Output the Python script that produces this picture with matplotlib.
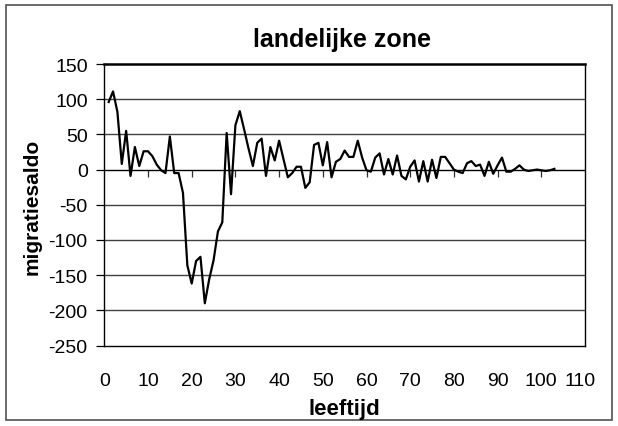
import matplotlib
matplotlib.use("Agg")
import matplotlib.pyplot as plt
from matplotlib.patches import Rectangle
from matplotlib.transforms import ScaledTranslation

plt.rcParams['font.family'] = ['Liberation Sans', 'DejaVu Sans']

# Net migration by age (rural zone)
ages = list(range(1, 104))
saldo = [
    96, 111, 82, 8, 55, -9, 32, 5, 26, 26,
    19, 7, -1, -5, 47, -5, -5, -33, -136, -162,
    -130, -124, -190, -156, -129, -88, -75, 52, -35, 63,
    83, 57, 30, 5, 38, 44, -9, 32, 13, 41,
    15, -11, -5, 4, 4, -26, -18, 35, 38, 6,
    39, -11, 11, 15, 27, 18, 18, 41, 17, -1,
    -3, 17, 23, -7, 15, -7, 20, -9, -14, 4,
    13, -17, 12, -17, 14, -12, 18, 18, 9, 0,
    -3, -5, 9, 12, 5, 7, -9, 11, -6, 6,
    17, -3, -3, 1, 6, 0, -2, -1, 0, -1,
    -2, -1, 1,
]
x_ticks = list(range(0, 111, 10))
y_ticks = list(range(-250, 151, 50))

title = "landelijke zone"
x_label = "leeftijd"
y_label = "migratiesaldo"

W, H = 618, 427
fig = plt.figure(figsize=(W / 100, H / 100), dpi=100)
fig.patch.set_facecolor("white")

# outer chart frame
fig.add_artist(Rectangle((5.5 / W, 1 - 421 / H), (612 - 5.5) / W, (421 - 6) / H,
                         transform=fig.transFigure, fill=False,
                         edgecolor="#505050", linewidth=1.2))

left, right, top, bottom = 104.3, 585, 65, 346.5
ax = fig.add_axes([left / W, 1 - bottom / H, (right - left) / W, (bottom - top) / H])
ax.set_xlim(0, 110)
ax.set_ylim(-250, 150)

for s in ax.spines.values():
    s.set_color("black")
    s.set_linewidth(1.0)
ax.spines["top"].set_linewidth(1.8)

# horizontal gridlines
for v in y_ticks[1:-1]:
    ax.axhline(v, color="black" if v == 0 else "#404040",
               linewidth=1.0, zorder=1)

ax.plot(ages, saldo, color="black", linewidth=1.6, zorder=3)

ax.set_yticks(y_ticks)
ax.set_yticklabels([str(v) for v in y_ticks])
ax.tick_params(axis="y", direction="out", length=5.5, width=0.9,
               pad=6.5, labelsize=14, color="black")

ax.set_xticks(x_ticks)
ax.set_xticklabels([str(v) for v in x_ticks])
ax.tick_params(axis="x", length=0, pad=19, labelsize=14)
last = ax.get_xticklabels()[-1]
last.set_transform(last.get_transform() + ScaledTranslation(-5 / 100, 0, fig.dpi_scale_trans))

# tick marks on the zero line
sec = ax.secondary_xaxis(250 / 400)
sec.set_xticks(x_ticks[1:-1])
sec.tick_params(axis="x", direction="out", length=5, width=0.9,
                color="#303030", labelbottom=False, labeltop=False)
sec.spines["bottom"].set_visible(False)
sec.spines["top"].set_visible(False)
sec.xaxis.set_ticks_position("bottom")
sec.set_xticklabels([])

fig.text(342 / W, 1 - 40 / H, title, ha="center", va="center",
         fontsize=18, fontweight="bold")
fig.text(344 / W, 1 - 410 / H, x_label, ha="center", va="center",
         fontsize=16, fontweight="bold")
fig.text(32 / W, 1 - 207 / H, y_label, ha="center", va="center",
         rotation=90, fontsize=15, fontweight="bold")

fig.savefig("out.png", dpi=100, facecolor="white")
